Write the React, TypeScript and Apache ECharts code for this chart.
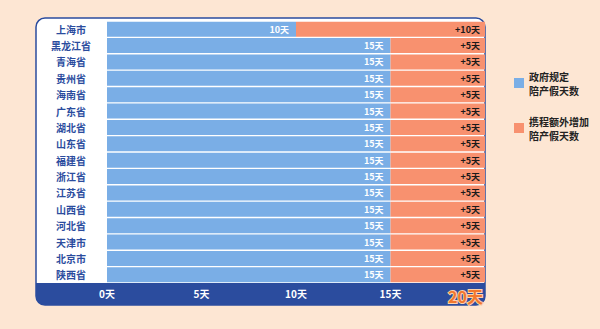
import React, { useEffect, useRef } from "react";
import * as echarts from "echarts";

const provinces = ["上海市", "黑龙江省", "青海省", "贵州省", "海南省", "广东省", "湖北省", "山东省", "福建省", "浙江省", "江苏省", "山西省", "河北省", "天津市", "北京市", "陕西省"];
const govDays = [10, 15, 15, 15, 15, 15, 15, 15, 15, 15, 15, 15, 15, 15, 15, 15];
const extraDays = [10, 5, 5, 5, 5, 5, 5, 5, 5, 5, 5, 5, 5, 5, 5, 5];
const seriesNames = ["政府规定\n陪产假天数", "携程额外增加\n陪产假天数"];
const tickValues = [0, 5, 10, 15, 20];

const FONT = "'Noto Sans CJK SC', 'Noto Sans', sans-serif";
const BLUE = "#7aaee6";
const ORANGE = "#f8916f";
const NAVY = "#2b4c9e";

export default function App() {
  const ref = useRef<HTMLDivElement>(null);
  useEffect(() => {
    const chart = echarts.init(ref.current!, null, { renderer: "svg" });
    chart.setOption({
      animation: false,
      backgroundColor: "#fde6d3",
      textStyle: { fontFamily: FONT },
      graphic: [
        {
          type: "rect",
          z: -10,
          shape: { x: 36, y: 18, width: 449, height: 287, r: 9 },
          style: { fill: "#ffffff", stroke: NAVY, lineWidth: 1.5 },
        },
        {
          type: "rect",
          z: -9,
          shape: { x: 36, y: 283, width: 449, height: 22, r: [0, 0, 9, 9] },
          style: { fill: NAVY },
        },
      ],
      legend: {
        orient: "vertical",
        left: 509,
        top: 64,
        itemWidth: 10,
        itemHeight: 10,
        itemGap: 17,
        icon: "rect",
        textStyle: { fontFamily: FONT, fontWeight: "bold", fontSize: 10, color: "#222", lineHeight: 14 },
        data: seriesNames,
      },
      grid: { left: 107, right: 115, top: 21, bottom: 46 },
      xAxis: {
        type: "value",
        min: 0,
        max: 20,
        interval: 5,
        splitLine: { show: false },
        axisLine: { show: false },
        axisTick: { show: false },
        axisLabel: {
          margin: 5,
          alignMaxLabel: "right",
          formatter: (v: number) => (v === tickValues[tickValues.length - 1] ? `{big|${v}天}` : `${v}天`),
          color: "#ffffff",
          fontWeight: "bold",
          fontSize: 10,
          fontFamily: FONT,
          rich: {
            big: {
              fontSize: 16,
              fontWeight: "bold",
              color: "#f2772e",
              textBorderColor: "#fbd2ae",
              textBorderWidth: 2,
              fontFamily: FONT,
              padding: [0, 2, 0, 0],
            },
          },
        },
      },
      yAxis: {
        type: "category",
        inverse: true,
        data: provinces,
        axisLine: { show: false },
        axisTick: { show: false },
        axisLabel: {
          align: "center",
          margin: 36,
          color: NAVY,
          fontWeight: "bold",
          fontSize: 10,
          fontFamily: FONT,
        },
      },
      series: [
        {
          name: seriesNames[0],
          type: "bar",
          stack: "days",
          data: govDays,
          barCategoryGap: "8%",
          itemStyle: { color: BLUE },
          label: {
            show: true,
            position: "insideRight",
            distance: 7,
            formatter: "{c}天",
            color: "#ffffff",
            fontWeight: "bold",
            fontSize: 9,
            fontFamily: FONT,
          },
        },
        {
          name: seriesNames[1],
          type: "bar",
          stack: "days",
          data: extraDays,
          barCategoryGap: "8%",
          itemStyle: { color: ORANGE },
          label: {
            show: true,
            position: "insideRight",
            distance: 5,
            formatter: "+{c}天",
            color: "#1a1a1a",
            fontWeight: "bold",
            fontSize: 9,
            fontFamily: FONT,
          },
        },
      ],
    });
    return () => chart.dispose();
  }, []);
  return (
    <div style={{ position: "fixed", left: 0, top: 0, width: 600, height: 329, background: "#fde6d3" }}>
      <div ref={ref} style={{ width: 600, height: 329 }} />
    </div>
  );
}
